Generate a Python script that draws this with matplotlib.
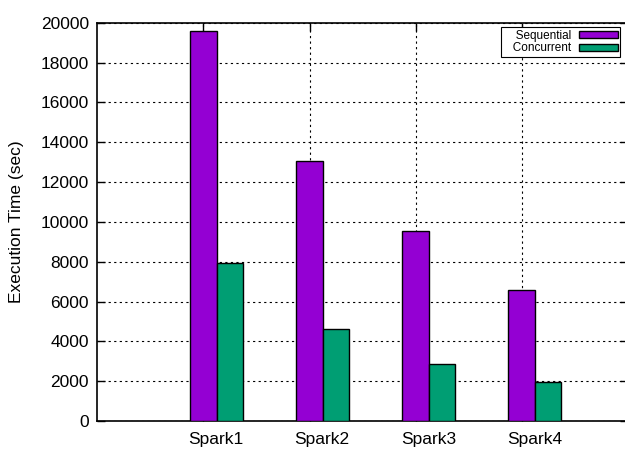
import matplotlib.pyplot as plt
from matplotlib.patches import Patch

plt.rcParams["font.family"] = ["Liberation Sans", "DejaVu Sans"]

# ── Data ──────────────────────────────────────────────────────────────── #

categories = ["Spark1", "Spark2", "Spark3", "Spark4"]
sequential = [19600, 13050, 9520, 6560]
concurrent = [7950, 4610, 2870, 1950]

SEQ_COLOR = "#9400D3"
CON_COLOR = "#009E73"

# ── Figure ────────────────────────────────────────────────────────────── #

W, H = 625, 449
fig = plt.figure(figsize=(W / 100, H / 100), dpi=100)
# gnuplot-style plot box; the right border falls just outside the image
left, right, top, bottom = 97.3, 627.8, 22.7, 421.0
ax = fig.add_axes([left / W, 1 - bottom / H, (right - left) / W, (bottom - top) / H])

bw = 0.25
xs = list(range(len(categories)))
ax.bar([x for x in xs], sequential, width=bw, color=SEQ_COLOR,
       edgecolor="black", linewidth=1.0, zorder=3)
ax.bar([x + bw for x in xs], concurrent, width=bw, color=CON_COLOR,
       edgecolor="black", linewidth=1.0, zorder=3)

ax.set_xlim(-1, 4)
ax.set_ylim(0, 20000)
ax.set_yticks(range(0, 20001, 2000))

# grid/tics sit on the first bar of each cluster, labels on the cluster centre
ax.set_xticks(xs)
ax.set_xticklabels([])
ax.set_xticks([x + 0.12 for x in xs], minor=True)
ax.set_xticklabels(categories, minor=True)
ax.tick_params(axis="x", which="major", direction="in", length=6,
               top=True, bottom=True, width=1.0)
ax.tick_params(axis="x", which="minor", length=0, labelsize=12.5, pad=8)
ax.tick_params(axis="y", direction="in", length=6, width=1.0,
               labelsize=12.5, pad=6, right=True)

ax.grid(True, which="major", color="black", linestyle=(0, (2, 3)),
        linewidth=0.8, zorder=0)
ax.set_axisbelow(True)
for s in ax.spines.values():
    s.set_linewidth(1.2)

ax.set_ylabel("Execution Time (sec)", fontsize=12.5, labelpad=12)

handles = [Patch(facecolor=SEQ_COLOR, edgecolor="black", label="   Sequential"),
           Patch(facecolor=CON_COLOR, edgecolor="black", label="   Concurrent")]
leg = ax.legend(handles=handles, loc="upper right",
                bbox_to_anchor=((620 - left) / (right - left), (bottom - 27.3) / (bottom - top)),
                borderaxespad=0, markerfirst=False, fontsize=8.5, fancybox=False,
                framealpha=1, edgecolor="black", handlelength=3.3, handleheight=0.55,
                handletextpad=0.6, labelspacing=0.05, borderpad=0.2)
leg.get_frame().set_linewidth(0.8)

fig.savefig("out.png", dpi=100)
